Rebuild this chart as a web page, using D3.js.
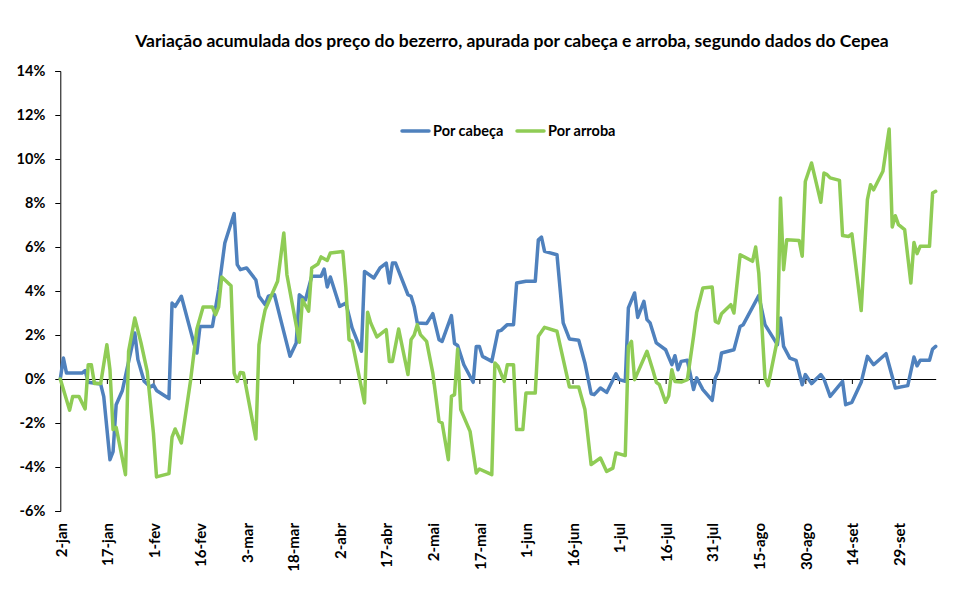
<!DOCTYPE html>
<html>
<head>
<meta charset="utf-8">
<script src="https://cdn.jsdelivr.net/npm/d3@7"></script>
<style>
  body { margin: 0; background: #fff; }
  svg { display: block; }
  text { font-family: Lato, "Open Sans", sans-serif; font-weight: bold; fill: #000; }
</style>
</head>
<body>
<div id="chart"></div>
<script>
// Series: [date (mm-dd, 2013), accumulated variation in %]
const porCabeca = [
  ["01-02",0],["01-03",0.95],["01-04",0.27],["01-09",0.27],["01-10",0.38],["01-11",-0.15],["01-15",-0.23],
  ["01-16",-0.80],["01-18",-3.67],["01-19",-3.30],["01-20",-1.17],["01-22",-0.52],["01-26",2.09],["01-27",0.88],
  ["01-29",-0.10],["01-31",-0.36],["02-01",-0.27],["02-02",-0.52],["02-06",-0.89],["02-07",3.45],["02-08",3.30],
  ["02-10",3.76],["02-14",1.64],["02-15",1.18],["02-16",2.39],["02-20",2.39],["02-22",4.06],["02-24",6.18],
  ["02-27",7.52],["02-28",5.20],["03-01",4.97],["03-03",5.05],["03-06",4.50],["03-07",3.76],["03-09",3.38],
  ["03-10",3.76],["03-12",3.83],["03-14",2.70],["03-17",1.03],["03-19",1.64],["03-20",3.83],["03-22",3.60],
  ["03-24",4.67],["03-27",4.67],["03-28",5.00],["03-29",4.18],["03-30",4.64],["04-02",3.30],["04-04",3.45],
  ["04-06",2.32],["04-09",1.26],["04-10",4.89],["04-13",4.59],["04-15",5.05],["04-17",5.27],["04-18",4.36],
  ["04-19",5.27],["04-20",5.27],["04-24",3.83],["04-25",3.76],["04-26",3.30],["04-27",2.55],["04-30",2.52],
  ["05-02",2.97],["05-04",1.79],["05-05",1.71],["05-08",2.88],["05-09",1.61],["05-10",1.52],["05-12",0.65],
  ["05-15",-0.15],["05-16",1.48],["05-17",1.48],["05-18",1.03],["05-21",0.80],["05-23",2.17],["05-24",2.21],
  ["05-26",2.47],["05-28",2.47],["05-29",4.36],["06-01",4.44],["06-04",4.44],["06-05",6.33],["06-06",6.45],
  ["06-07",5.80],["06-11",5.65],["06-13",2.55],["06-15",1.82],["06-18",1.76],["06-20",0.73],["06-22",-0.67],
  ["06-23",-0.71],["06-25",-0.41],["06-27",-0.61],["06-30",0.24],["07-01",-0.03],["07-03",-0.10],["07-04",3.23],
  ["07-06",3.91],["07-07",2.80],["07-09",3.53],["07-10",2.70],["07-11",2.55],["07-13",1.64],["07-16",1.33],
  ["07-18",0.65],["07-19",1.06],["07-20",0.42],["07-21",0.80],["07-23",0.85],["07-25",-0.48],["07-26",0.05],
  ["07-28",-0.48],["07-31",-0.97],["08-01",0.05],["08-02",0.35],["08-03",1.18],["08-07",1.33],["08-09",2.39],
  ["08-10",2.47],["08-15",3.79],["08-17",2.47],["08-21",1.56],["08-22",2.77],["08-23",1.48],["08-25",0.95],
  ["08-27",0.85],["08-29",-0.26],["08-30",0.20],["09-01",-0.21],["09-04",0.20],["09-05",0.00],["09-07",-0.79],
  ["09-11",-0.11],["09-12",-1.17],["09-14",-1.06],["09-17",-0.15],["09-19",1.03],["09-21",0.65],["09-25",1.15],
  ["09-28",-0.41],["10-02",-0.30],["10-04",1.00],["10-05",0.60],["10-06",0.85],["10-09",0.85],["10-10",1.36],
  ["10-11",1.48]
];

const porArroba = [
  ["01-02",0],["01-05",-1.42],["01-06",-0.79],["01-08",-0.79],["01-10",-1.36],["01-11",0.65],["01-12",0.65],
  ["01-13",-0.21],["01-15",-0.21],["01-17",1.56],["01-18",0.42],["01-19",-2.30],["01-20",-2.20],["01-23",-4.35],
  ["01-24",1.26],["01-26",2.77],["01-28",1.64],["01-30",0.35],["01-31",-1.06],["02-01",-2.45],["02-02",-4.45],
  ["02-06",-4.30],["02-07",-2.64],["02-08",-2.27],["02-10",-2.91],["02-13",-0.03],["02-15",2.27],["02-17",3.27],
  ["02-20",3.27],["02-21",2.92],["02-22",3.27],["02-23",4.64],["02-26",4.24],["02-27",0.27],["02-28",-0.11],
  ["03-01",0.30],["03-02",0.27],["03-06",-2.73],["03-07",1.56],["03-08",2.47],["03-09",3.15],["03-13",4.44],
  ["03-15",6.64],["03-16",4.74],["03-20",1.67],["03-21",3.60],["03-23",3.08],["03-24",5.05],["03-26",5.23],
  ["03-27",5.55],["03-29",5.39],["03-30",5.73],["04-03",5.80],["04-04",4.14],["04-05",1.79],["04-06",1.71],
  ["04-10",-1.09],["04-11",3.03],["04-12",2.55],["04-14",1.91],["04-17",2.24],["04-18",0.80],["04-19",0.80],
  ["04-21",2.27],["04-24",0.20],["04-25",1.79],["04-26",2.00],["04-27",2.47],["04-28",2.02],["04-30",1.71],
  ["05-02",0.27],["05-04",-1.92],["05-05",-2.00],["05-07",-3.67],["05-08",-0.79],["05-09",-0.71],["05-10",1.36],
  ["05-11",-1.39],["05-14",-2.38],["05-16",-4.27],["05-17",-4.09],["05-21",-4.35],["05-22",0.73],["05-23",0.58],
  ["05-25",-0.11],["05-26",0.65],["05-28",0.65],["05-29",-2.30],["05-31",-2.30],["06-01",-0.64],["06-04",-0.64],
  ["06-05",1.94],["06-07",2.35],["06-11",2.17],["06-15",-0.36],["06-18",-0.36],["06-20",-1.39],["06-22",-3.89],
  ["06-25",-3.59],["06-27",-4.20],["06-29",-4.05],["06-30",-3.36],["07-03",-3.48],["07-04",1.48],["07-05",1.71],
  ["07-06",-0.03],["07-10",1.26],["07-12",0.35],["07-13",-0.15],["07-14",-0.26],["07-16",-1.06],["07-17",-0.76],
  ["07-18",0.42],["07-19",-0.11],["07-21",-0.14],["07-23",-0.03],["07-25",1.94],["07-26",3.03],["07-28",4.14],
  ["07-31",4.18],["08-01",2.62],["08-02",2.55],["08-03",2.97],["08-06",3.38],["08-07",3.00],["08-09",5.65],
  ["08-13",5.35],["08-14",6.00],["08-15",4.82],["08-17",0.05],["08-18",-0.30],["08-21",1.79],["08-22",8.23],
  ["08-23",4.97],["08-24",6.33],["08-28",6.30],["08-29",5.58],["08-30",8.98],["09-01",9.82],["09-04",8.03],
  ["09-05",9.36],["09-06",9.29],["09-07",9.14],["09-10",9.03],["09-11",6.52],["09-13",6.48],["09-14",6.60],
  ["09-17",3.11],["09-19",8.15],["09-20",8.83],["09-21",8.60],["09-24",9.44],["09-26",11.36],["09-27",6.91],
  ["09-28",7.42],["09-29",7.02],["10-01",6.79],["10-03",4.36],["10-04",6.21],["10-05",5.70],["10-06",6.03],
  ["10-09",6.03],["10-10",8.45],["10-11",8.53]
];

// Axis labels
const xTickLabels = ["2-jan","17-jan","1-fev","16-fev","3-mar","18-mar","2-abr","17-abr","2-mai","17-mai",
  "1-jun","16-jun","1-jul","16-jul","31-jul","15-ago","30-ago","14-set","29-set"];
const yTicks = [-6, -4, -2, 0, 2, 4, 6, 8, 10, 12, 14];
const meses = ["jan","fev","mar","abr","mai","jun","jul","ago","set","out","nov","dez"];
const seriesNames = ["Por cabeça", "Por arroba"];
const title = "Variação acumulada dos preço do bezerro, apurada por cabeça e arroba, segundo dados do Cepea";

const width = 960, height = 593;
const margin = { left: 60.3, right: 24.3, top: 71, bottom: 82 };
const colors = ["#4f81bd", "#8fcc55"];

const parseDay = d3.utcParse("%Y-%m-%d");
const toPoint = ([d, v]) => ({ date: parseDay("2013-" + d), value: v });
const parseLabel = s => {
  const [day, m] = s.split("-");
  return new Date(Date.UTC(2013, meses.indexOf(m), +day));
};

const svg = d3.select("#chart").append("svg")
  .attr("width", width)
  .attr("height", height);

const x = d3.scaleUtc()
  .domain([parseDay("2013-01-02"), parseDay("2013-10-11")])
  .range([margin.left, width - margin.right]);

const y = d3.scaleLinear()
  .domain([-6, 14])
  .range([height - margin.bottom, margin.top]);

// Title
svg.append("text")
  .attr("x", 512)
  .attr("y", 47)
  .attr("text-anchor", "middle")
  .style("font-size", "17.5px")
  .text(title);

// Y axis
const yAxis = svg.append("g")
  .attr("transform", `translate(${margin.left},0)`)
  .call(d3.axisLeft(y)
    .tickValues(yTicks)
    .tickFormat(d => d + "%")
    .tickSize(5)
    .tickPadding(10));
yAxis.selectAll("text").style("font-size", "14.5px");

// X axis crossing at 0%, ticks only
const tickDates = xTickLabels.map(parseLabel);
svg.append("g")
  .attr("transform", `translate(0,${y(0)})`)
  .call(d3.axisBottom(x)
    .tickValues(tickDates)
    .tickFormat("")
    .tickSizeInner(5)
    .tickSizeOuter(0));

// X labels at the bottom, rotated
const xLabels = svg.append("g")
  .attr("transform", `translate(0,${height - margin.bottom})`)
  .call(d3.axisBottom(x)
    .tickValues(tickDates)
    .tickFormat((d, i) => xTickLabels[i])
    .tickSize(0));
xLabels.select(".domain").remove();
xLabels.selectAll("text")
  .attr("transform", "rotate(-90)")
  .attr("text-anchor", "end")
  .attr("x", -12)
  .attr("y", 0)
  .attr("dy", "0.38em")
  .style("font-size", "15px");

svg.selectAll(".domain, .tick line").attr("stroke", "#000");

// Lines
const line = d3.line()
  .x(d => x(d.date))
  .y(d => y(d.value));

[porCabeca, porArroba].forEach((s, i) => {
  svg.append("path")
    .datum(s.map(toPoint))
    .attr("fill", "none")
    .attr("stroke", colors[i])
    .attr("stroke-width", 3.5)
    .attr("stroke-linejoin", "round")
    .attr("stroke-linecap", "round")
    .attr("d", line);
});

// Legend
const legendX = [402, 517];
seriesNames.forEach((name, i) => {
  const g = svg.append("g").attr("transform", `translate(${legendX[i]},131)`);
  g.append("line")
    .attr("x1", 0).attr("x2", 27)
    .attr("stroke", colors[i])
    .attr("stroke-width", 3.5)
    .attr("stroke-linecap", "round");
  g.append("text")
    .attr("x", 31)
    .attr("dy", "0.35em")
    .style("font-size", "14.5px")
    .text(name);
});
</script>
</body>
</html>
